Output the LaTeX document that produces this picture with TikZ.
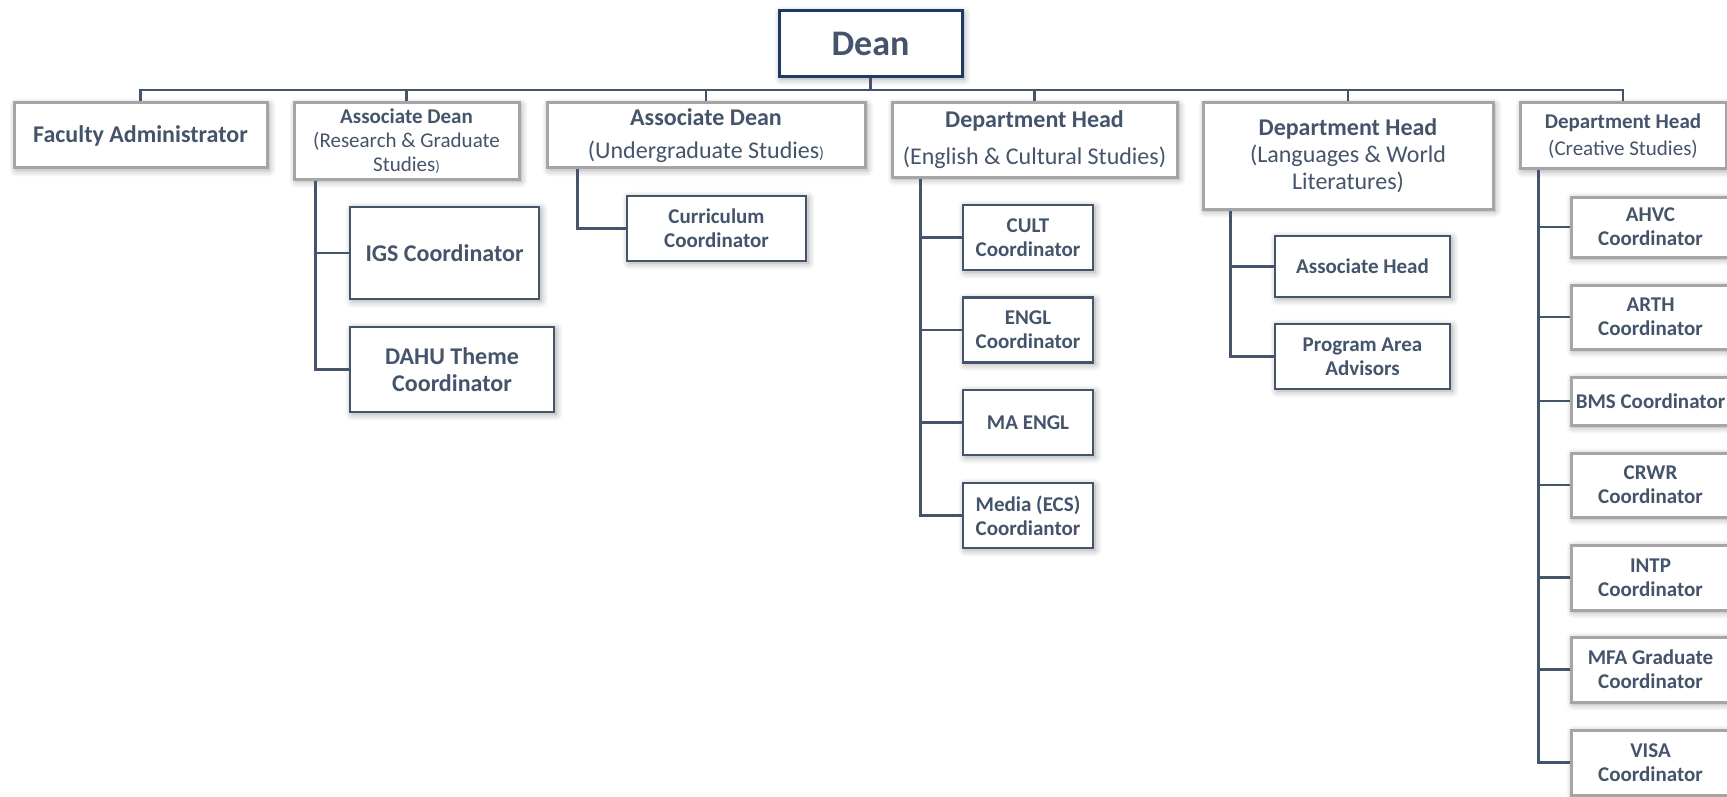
\documentclass[tikz,border=0pt]{standalone}
\usepackage{fontspec}
\setmainfont{Carlito}
\usepackage{tikz}
\usepackage{xcolor}
\usetikzlibrary{positioning,calc}
\usetikzlibrary{shadows.blur}

\definecolor{txtcol}{HTML}{44546A}
\definecolor{linecol}{HTML}{44546A}
\definecolor{framegray}{HTML}{A5A5A5}
\definecolor{deannavy}{HTML}{1F3864}

\tikzset{
  glow/.style={blur shadow={shadow blur steps=10, shadow blur radius=7pt, shadow xshift=2pt, shadow yshift=-2pt, shadow opacity=35}},
  bigtxt/.style={font=\fontsize{24}{27}\selectfont},
  smalltxt/.style={font=\fontsize{21}{24}\selectfont},
  bigbold/.style={font=\fontsize{24}{27}\selectfont\bfseries},
  smallbold/.style={font=\fontsize{21}{24}\selectfont\bfseries},
  headbox/.style={draw=framegray, line width=3pt, fill=white, glow, text=txtcol, align=center, inner sep=0pt},
  unitbox/.style={draw=linecol, line width=2.5pt, fill=white, glow, text=txtcol, align=center, inner sep=0pt},
  deanbox/.style={draw=deannavy, line width=3pt, fill=white, glow, text=txtcol, align=center, inner sep=0pt},
  conn/.style={draw=linecol, line width=2.5pt}
}

\begin{document}
\begin{tikzpicture}[x=1pt,y=-1pt]
    \useasboundingbox (0,0) rectangle (1727,797);

    \node[deanbox, minimum width=183, minimum height=66, font=\fontsize{36}{40}\selectfont\bfseries] (dean) at (870.5,44) {Dean};
    \coordinate (bus) at (870.5,90);

    \node[headbox, bigbold, minimum width=253, minimum height=65] (fac) at (140.5,135.5) {Faculty Administrator};
    \node[headbox, smalltxt, minimum width=225, minimum height=76] (rg) at (406.5,141) {\textbf{Associate Dean}\\(Research \& Graduate\\Studies{\fontsize{15}{15}\selectfont)}};
    \node[headbox, bigtxt, minimum width=318, minimum height=65] (ug) at (706,135.5) {\textbf{Associate Dean}\\[6pt](Undergraduate Studies{\fontsize{16}{16}\selectfont)}};
    \node[headbox, bigtxt, minimum width=285, minimum height=74] (ecs) at (1034.5,140) {\textbf{Department Head}\\[10pt](English \& Cultural Studies)};
    \node[headbox, bigtxt, minimum width=290, minimum height=106] (lwl) at (1348,156) {\textbf{Department Head}\\(Languages \& World\\Literatures)};
    \node[headbox, smalltxt, minimum width=206, minimum height=66] (cs) at (1623,136) {\textbf{Department Head}\\[3pt](Creative Studies)};

    \draw[conn] (dean.south) -- (bus);
    \draw[conn] (fac.north) |- (bus);
    \draw[conn] (rg.north) |- (bus);
    \draw[conn] (ug.north) |- (bus);
    \draw[conn] (ecs.north) |- (bus);
    \draw[conn] (lwl.north) |- (bus);
    \draw[conn] (cs.north) |- (bus);

    \node[unitbox, bigbold, minimum width=189, minimum height=92] (igs) at (444.5,253) {IGS Coordinator};
    \node[unitbox, bigbold, minimum width=204, minimum height=85] (dahu) at (452,369.5) {DAHU Theme\\Coordinator};
    \draw[conn] ($(rg.south west)+(23,0)$) |- (igs.west);
    \draw[conn] ($(rg.south west)+(23,0)$) |- (dahu.west);

    \node[unitbox, smallbold, minimum width=179, minimum height=65] (curr) at (716.5,228.5) {Curriculum\\Coordinator};
    \draw[conn] ($(ug.south west)+(32,0)$) |- (curr.west);

    \node[unitbox, smallbold, minimum width=130, minimum height=65] (cult) at (1028,237.5) {CULT\\Coordinator};
    \node[unitbox, smallbold, minimum width=130, minimum height=65] (engl) at (1028,330) {ENGL\\Coordinator};
    \node[unitbox, smallbold, minimum width=130, minimum height=65] (maengl) at (1028,422.5) {MA ENGL};
    \node[unitbox, smallbold, minimum width=130, minimum height=65] (media) at (1028,515.5) {Media (ECS)\\Coordiantor};
    \draw[conn] ($(ecs.south west)+(30,0)$) |- (cult.west);
    \draw[conn] ($(ecs.south west)+(30,0)$) |- (engl.west);
    \draw[conn] ($(ecs.south west)+(30,0)$) |- (maengl.west);
    \draw[conn] ($(ecs.south west)+(30,0)$) |- (media.west);

    \node[unitbox, smallbold, minimum width=175, minimum height=61] (assoc) at (1362.5,266.5) {Associate Head};
    \node[unitbox, smallbold, minimum width=175, minimum height=65] (pad) at (1362.5,356.5) {Program Area\\Advisors};
    \draw[conn] ($(lwl.south west)+(29,0)$) |- (assoc.west);
    \draw[conn] ($(lwl.south west)+(29,0)$) |- (pad.west);

    \node[headbox, smallbold, minimum width=159, minimum height=60] (ahvc) at (1650.5,227) {AHVC\\Coordinator};
    \node[headbox, smallbold, minimum width=159, minimum height=64] (arth) at (1650.5,317) {ARTH\\Coordinator};
    \node[headbox, smallbold, minimum width=159, minimum height=48] (bms) at (1650.5,401) {BMS Coordinator};
    \node[headbox, smallbold, minimum width=159, minimum height=64] (crwr) at (1650.5,485) {CRWR\\Coordinator};
    \node[headbox, smallbold, minimum width=159, minimum height=65] (intp) at (1650.5,577.5) {INTP\\Coordinator};
    \node[headbox, smallbold, minimum width=159, minimum height=65] (mfa) at (1650.5,669.5) {MFA Graduate\\Coordinator};
    \node[headbox, smallbold, minimum width=159, minimum height=65] (visa) at (1650.5,762.5) {VISA\\Coordinator};
    \draw[conn] ($(cs.south west)+(20,0)$) |- (ahvc.west);
    \draw[conn] ($(cs.south west)+(20,0)$) |- (arth.west);
    \draw[conn] ($(cs.south west)+(20,0)$) |- (bms.west);
    \draw[conn] ($(cs.south west)+(20,0)$) |- (crwr.west);
    \draw[conn] ($(cs.south west)+(20,0)$) |- (intp.west);
    \draw[conn] ($(cs.south west)+(20,0)$) |- (mfa.west);
    \draw[conn] ($(cs.south west)+(20,0)$) |- (visa.west);
\end{tikzpicture}
\end{document}
